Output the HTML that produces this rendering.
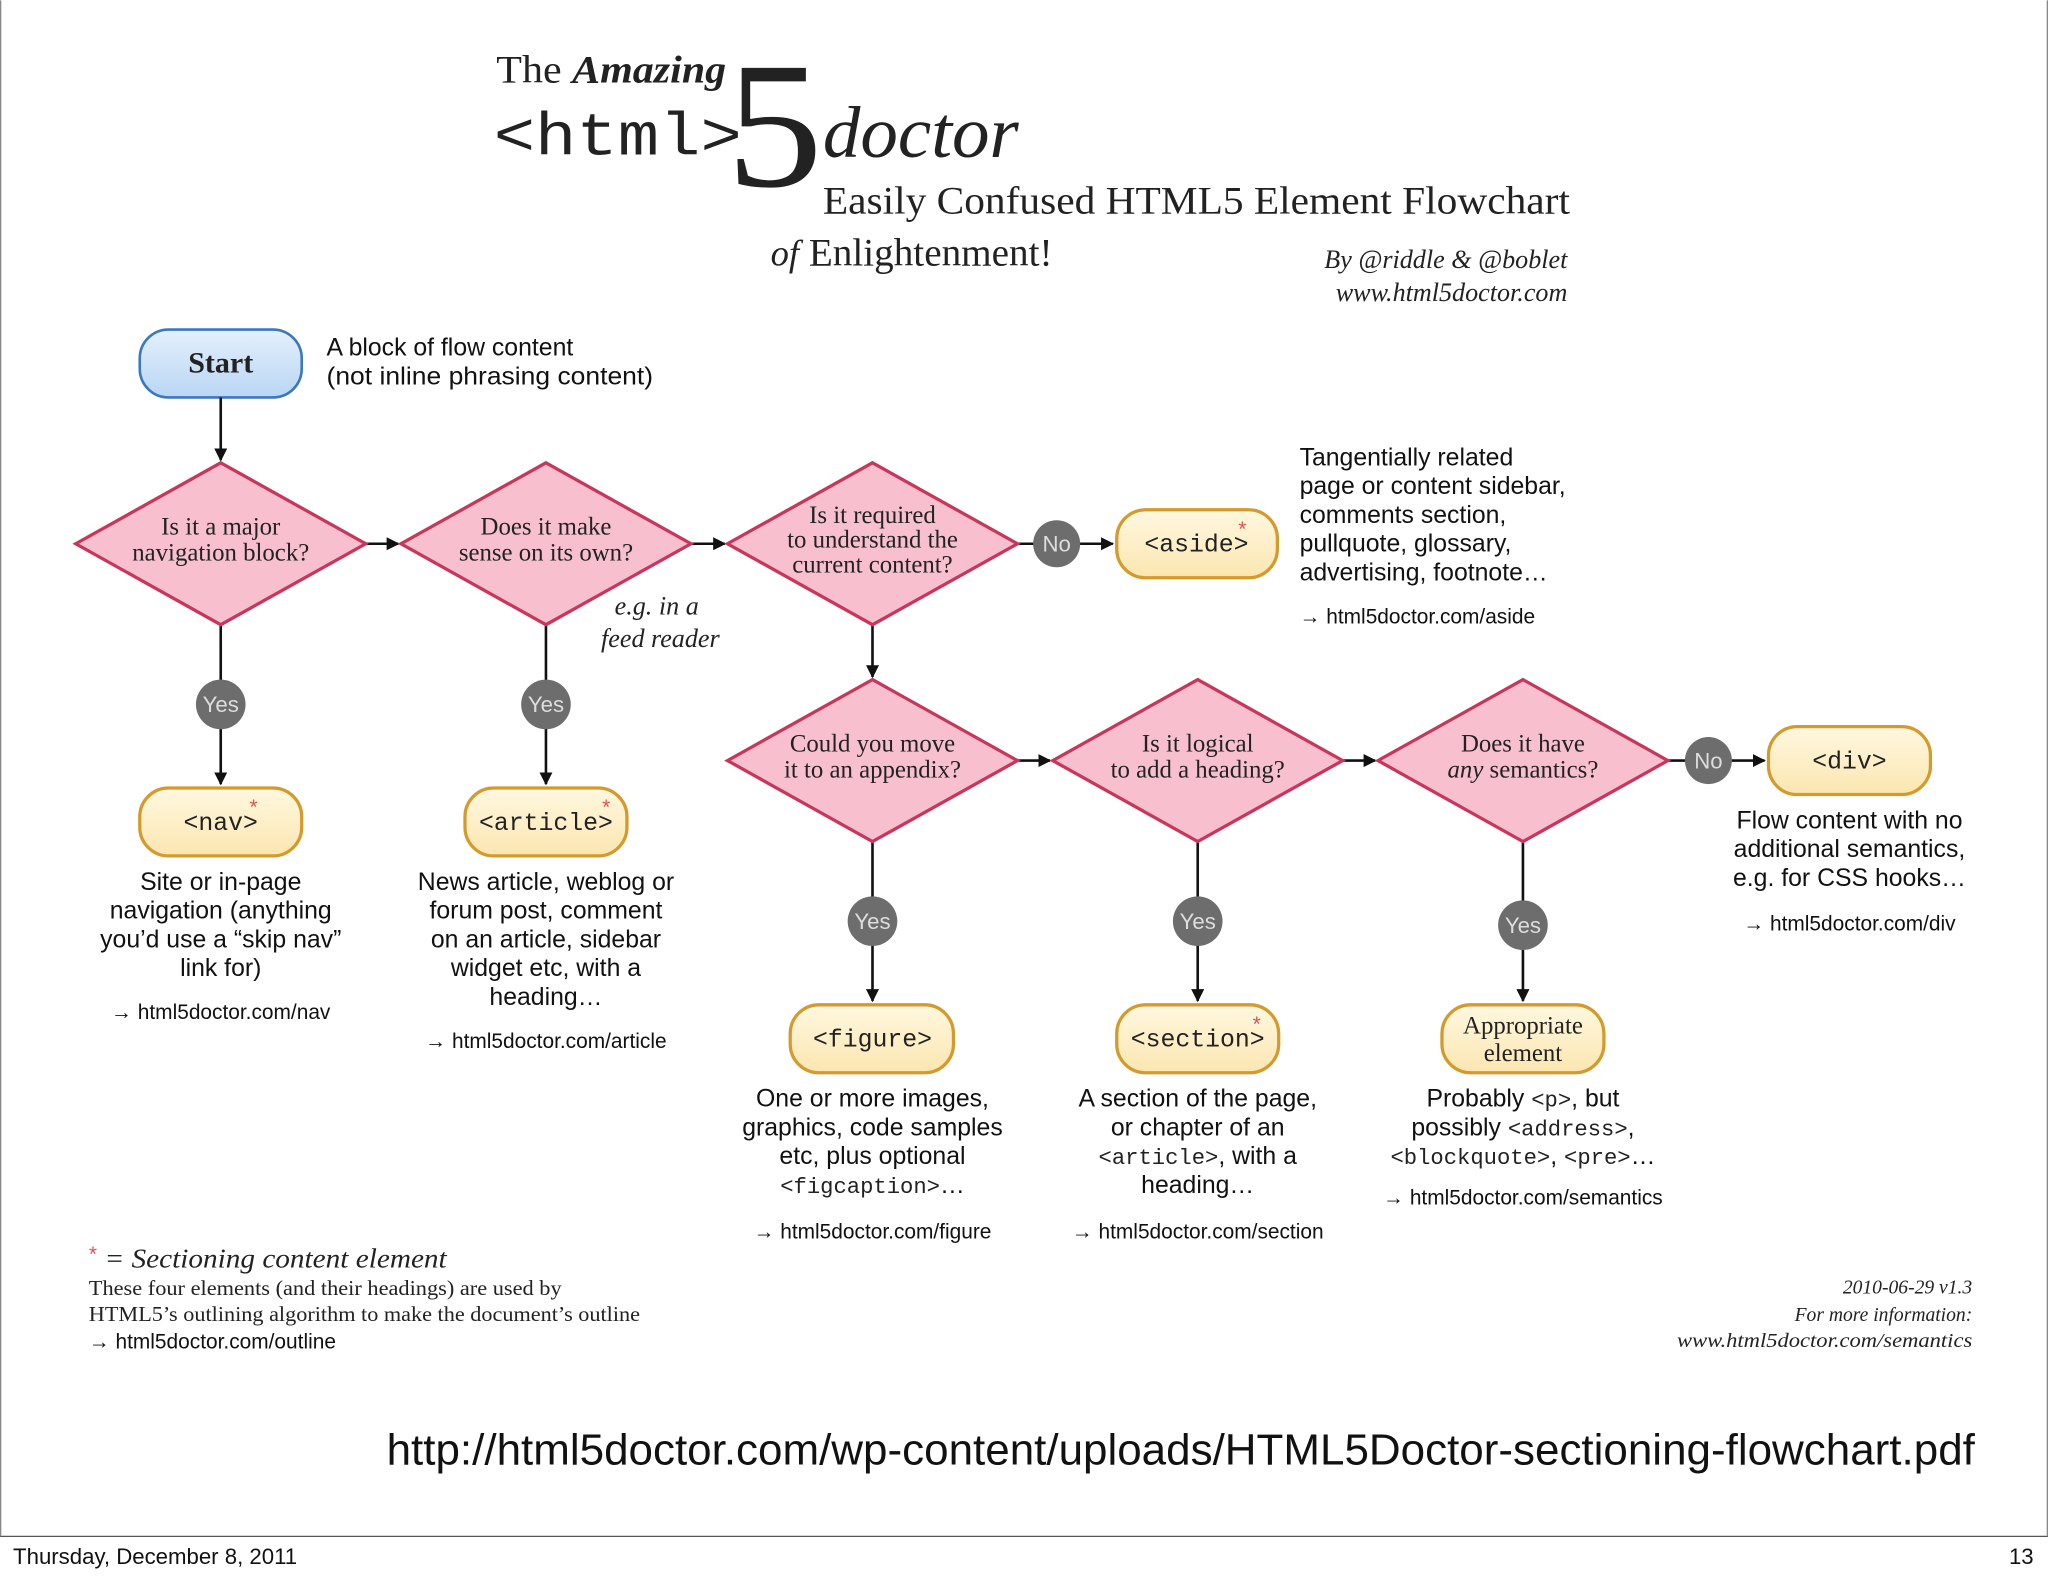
<!DOCTYPE html>
<html><head><meta charset="utf-8"><style>
html,body{margin:0;padding:0;background:#fff;}
svg{display:block;}
.s{font-family:"Liberation Sans",sans-serif;fill:#111;}
.sf{font-family:"Liberation Serif",serif;fill:#222;}
.m{font-family:"Liberation Mono",monospace;fill:#222;}
</style></head><body>
<svg width="2048" height="1576" viewBox="0 0 1568 1206" xmlns="http://www.w3.org/2000/svg">
<defs>
<marker id="a" markerWidth="10" markerHeight="10" refX="9" refY="5" orient="auto" markerUnits="userSpaceOnUse"><path d="M0,0 L10,5 L0,10z" fill="#111"/></marker>
<linearGradient id="bl" x1="0" y1="0" x2="0" y2="1"><stop offset="0" stop-color="#e4f0fc"/><stop offset="1" stop-color="#b9d6f4"/></linearGradient>
<linearGradient id="yl" x1="0" y1="0" x2="0" y2="1"><stop offset="0" stop-color="#fff8e0"/><stop offset="1" stop-color="#fbe6b0"/></linearGradient>
</defs>
<rect width="1568" height="1206" fill="#fff"/>
<line x1="0" y1="1176" x2="1568" y2="1176" stroke="#555" stroke-width="1"/>
<line x1="0.5" y1="0" x2="0.5" y2="1176" stroke="#888"/>
<line x1="1567.5" y1="0" x2="1567.5" y2="1176" stroke="#888"/>
<text class="s" x="10" y="1197" font-size="17">Thursday, December 8, 2011</text>
<text class="s" x="1557" y="1197" font-size="17" text-anchor="end">13</text>

<!-- Title -->
<text class="sf" x="380" y="63" font-size="30" fill="#333" textLength="176" lengthAdjust="spacingAndGlyphs">The <tspan font-style="italic" font-weight="bold">Amazing</tspan></text>
<text class="m" x="378" y="118" font-size="46" fill="#666" textLength="190" lengthAdjust="spacingAndGlyphs">&lt;html&gt;</text>
<text class="sf" x="556" y="142" font-size="138" fill="#333" textLength="74" lengthAdjust="spacingAndGlyphs">5</text>
<text class="sf" x="630" y="120" font-size="56" font-style="italic" fill="#444" textLength="150" lengthAdjust="spacingAndGlyphs">doctor</text>
<text class="sf" x="630" y="163" font-size="30" textLength="572" lengthAdjust="spacingAndGlyphs">Easily Confused HTML5 Element Flowchart</text>
<text class="sf" x="590" y="203" font-size="30"><tspan font-style="italic" font-size="28">of</tspan>  Enlightenment!</text>
<text class="sf" x="1200" y="205" font-size="20" font-style="italic" text-anchor="end" fill="#444">By @riddle &amp; @boblet</text>
<text class="sf" x="1200" y="230" font-size="20" font-style="italic" text-anchor="end" fill="#444">www.html5doctor.com</text>

<!-- Start -->
<rect x="107" y="252" width="124" height="52" rx="22" fill="url(#bl)" stroke="#3a78c0" stroke-width="2"/>
<text class="sf" x="169" y="285" font-size="23" font-weight="bold" text-anchor="middle" fill="#111">Start</text>
<text class="s" x="250" y="272" font-size="19">A block of flow content</text>
<text class="s" x="250" y="294" font-size="19" textLength="250" lengthAdjust="spacingAndGlyphs">(not inline phrasing content)</text>

<g stroke="#111" stroke-width="2" fill="none">
<line x1="169" y1="304" x2="169" y2="352" marker-end="url(#a)"/>
<line x1="280" y1="416" x2="305" y2="416" marker-end="url(#a)"/>
<line x1="529" y1="416" x2="555" y2="416" marker-end="url(#a)"/>
<line x1="779" y1="416" x2="852" y2="416" marker-end="url(#a)"/>
<line x1="668" y1="478" x2="668" y2="518" marker-end="url(#a)"/>
<line x1="779" y1="582" x2="804" y2="582" marker-end="url(#a)"/>
<line x1="1028" y1="582" x2="1053" y2="582" marker-end="url(#a)"/>
<line x1="1277" y1="582" x2="1351" y2="582" marker-end="url(#a)"/>
<line x1="169" y1="478" x2="169" y2="600" marker-end="url(#a)"/>
<line x1="418" y1="478" x2="418" y2="600" marker-end="url(#a)"/>
<line x1="668" y1="644" x2="668" y2="766" marker-end="url(#a)"/>
<line x1="917" y1="644" x2="917" y2="766" marker-end="url(#a)"/>
<line x1="1166" y1="644" x2="1166" y2="766" marker-end="url(#a)"/>
</g>

<!-- Diamonds -->
<g fill="#f8c0cf" stroke="#c8365c" stroke-width="2.5">
<polygon points="169,354 280,416 169,478 58,416"/>
<polygon points="418,354 529,416 418,478 307,416"/>
<polygon points="668,354 779,416 668,478 557,416"/>
<polygon points="668,520 779,582 668,644 557,582"/>
<polygon points="917,520 1028,582 917,644 806,582"/>
<polygon points="1166,520 1277,582 1166,644 1055,582"/>
</g>
<g class="sf" font-size="19" text-anchor="middle">
<text x="169" y="409" class="sf">Is it a major</text><text x="169" y="429" class="sf">navigation block?</text>
<text x="418" y="409" class="sf">Does it make</text><text x="418" y="429" class="sf">sense on its own?</text>
<text x="668" y="400" class="sf">Is it required</text><text x="668" y="419" class="sf">to understand the</text><text x="668" y="438" class="sf">current content?</text>
<text x="668" y="575" class="sf">Could you move</text><text x="668" y="595" class="sf">it to an appendix?</text>
<text x="917" y="575" class="sf">Is it logical</text><text x="917" y="595" class="sf">to add a heading?</text>
<text x="1166" y="575" class="sf">Does it have</text><text x="1166" y="595" class="sf"><tspan font-style="italic">any</tspan> semantics?</text>
</g>
<text class="sf" x="535" y="470" font-size="20" font-style="italic" text-anchor="end">e.g. in a</text>
<text class="sf" x="551" y="495" font-size="20" font-style="italic" text-anchor="end">feed reader</text>

<!-- circles -->
<g fill="#6d6d6d">
<circle cx="809" cy="416" r="18"/><circle cx="1308" cy="582" r="18"/>
<circle cx="169" cy="539" r="19"/><circle cx="418" cy="539" r="19"/>
<circle cx="668" cy="705" r="19"/><circle cx="917" cy="705" r="19"/><circle cx="1166" cy="708" r="19"/>
</g>
<g class="s" font-size="17" text-anchor="middle">
<text x="809" y="422" fill="#ddd">No</text><text x="1308" y="588" fill="#ddd">No</text>
<text x="169" y="545" fill="#ddd">Yes</text><text x="418" y="545" fill="#ddd">Yes</text>
<text x="668" y="711" fill="#ddd">Yes</text><text x="917" y="711" fill="#ddd">Yes</text><text x="1166" y="714" fill="#ddd">Yes</text>
</g>

<!-- element boxes -->
<g fill="url(#yl)" stroke="#d49a2c" stroke-width="2.5">
<rect x="855" y="390" width="123" height="52" rx="22"/>
<rect x="107" y="603" width="124" height="52" rx="22"/>
<rect x="356" y="603" width="124" height="52" rx="22"/>
<rect x="605" y="769" width="125" height="52" rx="22"/>
<rect x="855" y="769" width="124" height="52" rx="22"/>
<rect x="1104" y="769" width="124" height="52" rx="22"/>
<rect x="1354" y="556" width="124" height="52" rx="22"/>
</g>
<g class="m" font-size="19" text-anchor="middle">
<text x="916" y="422">&lt;aside&gt;</text>
<text x="169" y="635">&lt;nav&gt;</text>
<text x="418" y="635">&lt;article&gt;</text>
<text x="668" y="801">&lt;figure&gt;</text>
<text x="917" y="801">&lt;section&gt;</text>
<text x="1416" y="588">&lt;div&gt;</text>
</g>
<text class="sf" x="1166" y="791" font-size="19" text-anchor="middle">Appropriate</text>
<text class="sf" x="1166" y="812" font-size="19" text-anchor="middle">element</text>
<g fill="#e05050" font-family="Liberation Sans" font-size="16">
<text x="948" y="410">*</text><text x="191" y="623">*</text><text x="461" y="623">*</text><text x="959" y="789">*</text><text x="68" y="965">*</text>
</g>

<!-- descriptions -->
<g class="s" font-size="19">
<text x="995" y="356">Tangentially related</text>
<text x="995" y="378">page or content sidebar,</text>
<text x="995" y="400">comments section,</text>
<text x="995" y="422">pullquote, glossary,</text>
<text x="995" y="444">advertising, footnote…</text>
<text x="995" y="477" font-size="16">→ html5doctor.com/aside</text>
</g>
<g class="s" font-size="19" text-anchor="middle">
<text x="169" y="681">Site or in-page</text>
<text x="169" y="703">navigation (anything</text>
<text x="169" y="725">you’d use a “skip nav”</text>
<text x="169" y="747">link for)</text>
<text x="169" y="780" font-size="16">→ html5doctor.com/nav</text>
<text x="418" y="681">News article, weblog or</text>
<text x="418" y="703">forum post, comment</text>
<text x="418" y="725">on an article, sidebar</text>
<text x="418" y="747">widget etc, with a</text>
<text x="418" y="769">heading…</text>
<text x="418" y="802" font-size="16">→ html5doctor.com/article</text>
<text x="668" y="847">One or more images,</text>
<text x="668" y="869">graphics, code samples</text>
<text x="668" y="891">etc, plus optional</text>
<text x="668" y="913"><tspan class="m" font-size="17">&lt;figcaption&gt;</tspan>…</text>
<text x="668" y="948" font-size="16">→ html5doctor.com/figure</text>
<text x="917" y="847">A section of the page,</text>
<text x="917" y="869">or chapter of an</text>
<text x="917" y="891"><tspan class="m" font-size="17">&lt;article&gt;</tspan>, with a</text>
<text x="917" y="913">heading…</text>
<text x="917" y="948" font-size="16">→ html5doctor.com/section</text>
<text x="1166" y="847">Probably <tspan class="m" font-size="17">&lt;p&gt;</tspan>, but</text>
<text x="1166" y="869">possibly <tspan class="m" font-size="17">&lt;address&gt;</tspan>,</text>
<text x="1166" y="891"><tspan class="m" font-size="17">&lt;blockquote&gt;</tspan>, <tspan class="m" font-size="17">&lt;pre&gt;</tspan>…</text>
<text x="1166" y="922" font-size="16">→ html5doctor.com/semantics</text>
<text x="1416" y="634">Flow content with no</text>
<text x="1416" y="656">additional semantics,</text>
<text x="1416" y="678">e.g. for CSS hooks…</text>
<text x="1416" y="712" font-size="16">→ html5doctor.com/div</text>
</g>

<!-- footer notes -->
<text class="sf" x="80" y="970" font-size="21" font-style="italic" textLength="262" lengthAdjust="spacingAndGlyphs">= Sectioning content element</text>
<text class="sf" x="68" y="991" font-size="16" textLength="362" lengthAdjust="spacingAndGlyphs">These four elements (and their headings) are used by</text>
<text class="sf" x="68" y="1011" font-size="16" textLength="422" lengthAdjust="spacingAndGlyphs">HTML5’s outlining algorithm to make the document’s outline</text>
<text class="s" x="68" y="1032" font-size="16">→ html5doctor.com/outline</text>
<text class="sf" x="1510" y="990" font-size="15" font-style="italic" text-anchor="end">2010-06-29 v1.3</text>
<text class="sf" x="1510" y="1011" font-size="15" font-style="italic" text-anchor="end">For more information:</text>
<text class="sf" x="1510" y="1031" font-size="15" font-style="italic" text-anchor="end" textLength="226" lengthAdjust="spacingAndGlyphs">www.html5doctor.com/semantics</text>

<text class="s" x="296" y="1121" font-size="33" fill="#000" textLength="1216" lengthAdjust="spacingAndGlyphs">http://html5doctor.com/wp-content/uploads/HTML5Doctor-sectioning-flowchart.pdf</text>
</svg>
</body></html>
